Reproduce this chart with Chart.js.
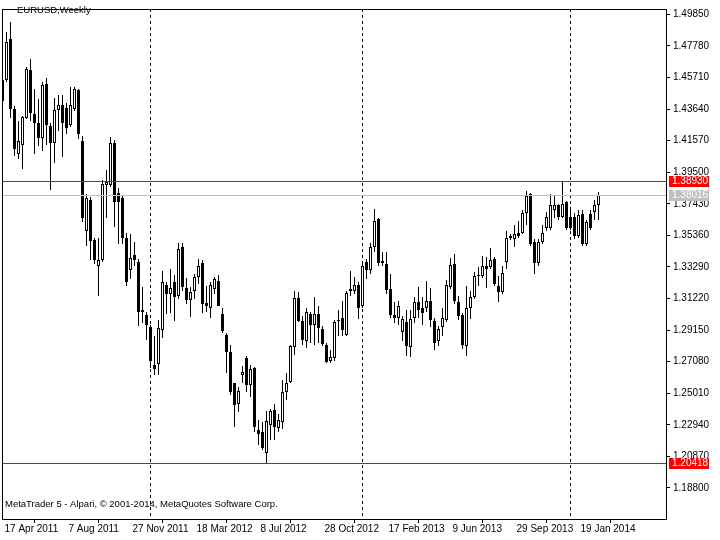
<!DOCTYPE html>
<html>
<head>
<meta charset="utf-8">
<script src="https://cdn.jsdelivr.net/npm/chart.js@4.4.1/dist/chart.umd.min.js"></script>
<style>
  html, body { margin: 0; padding: 0; background: #fff; }
  canvas { display: block; }
</style>
</head>
<body>
<canvas id="chart" width="720" height="540"></canvas>
<script>
// ===== data =====
const SYMBOL = 'EURUSD,Weekly';
const COPYRIGHT = 'MetaTrader 5 - Alpari, © 2001-2014, MetaQuotes Software Corp.';

// weekly bars, first one = week of 17 Apr 2011
const opens = [
  1.4415, 1.4558, 1.4823, 1.4364, 1.4072, 1.4131, 1.4305, 1.4622, 1.4331, 1.4273,
  1.4176, 1.4532, 1.4255, 1.4140, 1.4360, 1.4389, 1.4370, 1.4260, 1.4364, 1.4487,
  1.4157, 1.3568, 1.3770, 1.3503, 1.3335, 1.3374, 1.3865, 1.3865, 1.4144, 1.3814,
  1.3781, 1.3516, 1.3309, 1.3406, 1.3361, 1.3031, 1.3011, 1.2934, 1.2688, 1.2694,
  1.2915, 1.3212, 1.3150, 1.3231, 1.3140, 1.3458, 1.3193, 1.3115, 1.3173, 1.3264,
  1.3354, 1.3095, 1.3063, 1.3186, 1.3238, 1.3018, 1.2882, 1.2772, 1.2565, 1.2429,
  1.2623, 1.2733, 1.2552, 1.2668, 1.2261, 1.2248, 1.2112, 1.2293, 1.2390, 1.2274,
  1.2310, 1.2507, 1.2578, 1.2804, 1.3128, 1.2973, 1.2843, 1.3018, 1.2947, 1.3018,
  1.2921, 1.2817, 1.2714, 1.2733, 1.2979, 1.2992, 1.2882, 1.3186, 1.3173, 1.3212,
  1.3070, 1.3361, 1.3309, 1.3458, 1.3645, 1.3367, 1.3348, 1.3186, 1.3011, 1.2995,
  1.2901, 1.2966, 1.2804, 1.2992, 1.3102, 1.3063, 1.3057, 1.3108, 1.2973, 1.2843,
  1.2934, 1.2979, 1.3199, 1.3348, 1.3102, 1.3011, 1.2811, 1.3057, 1.3134, 1.3270,
  1.3270, 1.3335, 1.3328, 1.3380, 1.3205, 1.3167, 1.3361, 1.3529, 1.3510, 1.3555,
  1.3555, 1.3680, 1.3807, 1.3490, 1.3354, 1.3490, 1.3587, 1.3587, 1.3704, 1.3736,
  1.3658, 1.3755, 1.3658, 1.3658, 1.3529, 1.3678, 1.3477, 1.3678, 1.3691, 1.3736
];
const highs = [
  1.4590, 1.4868, 1.4933, 1.4383, 1.4286, 1.4318, 1.4642, 1.4694, 1.4499, 1.4428,
  1.4545, 1.4571, 1.4270, 1.4435, 1.4454, 1.4454, 1.4402, 1.4512, 1.4506, 1.4499,
  1.4189, 1.3807, 1.3790, 1.3516, 1.3516, 1.3898, 1.3962, 1.4182, 1.4163, 1.3846,
  1.3801, 1.3555, 1.3542, 1.3490, 1.3380, 1.3199, 1.3037, 1.2947, 1.2875, 1.2979,
  1.3303, 1.3231, 1.3315, 1.3277, 1.3484, 1.3484, 1.3257, 1.3199, 1.3283, 1.3380,
  1.3374, 1.3205, 1.3231, 1.3264, 1.3277, 1.3063, 1.2895, 1.2817, 1.2571, 1.2539,
  1.2681, 1.2746, 1.2688, 1.2675, 1.2326, 1.2313, 1.2384, 1.2397, 1.2429, 1.2364,
  1.2591, 1.2636, 1.2815, 1.3173, 1.3167, 1.3005, 1.3057, 1.3031, 1.3134, 1.3070,
  1.2940, 1.2830, 1.2785, 1.2979, 1.3044, 1.3108, 1.3173, 1.3303, 1.3264, 1.3231,
  1.3348, 1.3380, 1.3484, 1.3710, 1.3652, 1.3425, 1.3425, 1.3283, 1.3102, 1.3108,
  1.3005, 1.3044, 1.3044, 1.3134, 1.3199, 1.3134, 1.3238, 1.3193, 1.2992, 1.2940,
  1.3057, 1.3244, 1.3387, 1.3412, 1.3141, 1.3024, 1.3205, 1.3173, 1.3296, 1.3328,
  1.3400, 1.3393, 1.3451, 1.3393, 1.3270, 1.3335, 1.3568, 1.3542, 1.3607, 1.3632,
  1.3704, 1.3827, 1.3814, 1.3510, 1.3510, 1.3607, 1.3691, 1.3807, 1.3801, 1.3742,
  1.3893, 1.3762, 1.3704, 1.3684, 1.3704, 1.3704, 1.3639, 1.3704, 1.3768, 1.3820
];
const lows = [
  1.4402, 1.4545, 1.4305, 1.4059, 1.4040, 1.3969, 1.4299, 1.4286, 1.4072, 1.4124,
  1.4092, 1.4131, 1.3833, 1.4008, 1.4221, 1.4047, 1.4202, 1.4247, 1.4351, 1.4169,
  1.3626, 1.3464, 1.3374, 1.3348, 1.3141, 1.3361, 1.3652, 1.3852, 1.3594, 1.3477,
  1.3477, 1.3205, 1.3251, 1.3335, 1.2940, 1.2960, 1.2850, 1.2668, 1.2623, 1.2623,
  1.2863, 1.3018, 1.3024, 1.2973, 1.3120, 1.3173, 1.3089, 1.2998, 1.3121, 1.3218,
  1.3024, 1.3037, 1.2992, 1.3154, 1.3070, 1.2895, 1.2636, 1.2487, 1.2280, 1.2377,
  1.2571, 1.2507, 1.2474, 1.2248, 1.2164, 1.2131, 1.2042, 1.2196, 1.2196, 1.2248,
  1.2267, 1.2455, 1.2571, 1.2753, 1.2966, 1.2817, 1.2798, 1.2830, 1.2817, 1.2830,
  1.2811, 1.2701, 1.2701, 1.2714, 1.2875, 1.2875, 1.2875, 1.3141, 1.3154, 1.2985,
  1.3057, 1.3251, 1.3283, 1.3425, 1.3335, 1.3335, 1.3154, 1.2992, 1.2960, 1.2950,
  1.2843, 1.2746, 1.2740, 1.2960, 1.2992, 1.2947, 1.3037, 1.2934, 1.2785, 1.2811,
  1.2875, 1.2966, 1.3186, 1.3089, 1.2979, 1.2791, 1.2746, 1.2985, 1.3121, 1.3205,
  1.3257, 1.3193, 1.3315, 1.3205, 1.3102, 1.3154, 1.3315, 1.3503, 1.3458, 1.3522,
  1.3542, 1.3607, 1.3464, 1.3283, 1.3335, 1.3477, 1.3568, 1.3574, 1.3652, 1.3639,
  1.3652, 1.3574, 1.3574, 1.3510, 1.3516, 1.3464, 1.3464, 1.3574, 1.3639, 1.3639
];
const closes = [
  1.4558, 1.4804, 1.4364, 1.4105, 1.4157, 1.4312, 1.4629, 1.4338, 1.4273, 1.4176,
  1.4519, 1.4260, 1.4144, 1.4357, 1.4392, 1.4273, 1.4241, 1.4389, 1.4493, 1.4202,
  1.3652, 1.3781, 1.3497, 1.3374, 1.3374, 1.3872, 1.3885, 1.4144, 1.3755, 1.3755,
  1.3516, 1.3231, 1.3387, 1.3374, 1.3037, 1.3044, 1.2947, 1.2714, 1.2662, 1.2927,
  1.3231, 1.3154, 1.3193, 1.3134, 1.3445, 1.3199, 1.3115, 1.3167, 1.3264, 1.3335,
  1.3083, 1.3070, 1.3212, 1.3251, 1.3076, 1.2908, 1.2772, 1.2507, 1.2423, 1.2513,
  1.2643, 1.2558, 1.2662, 1.2280, 1.2235, 1.2144, 1.2319, 1.2384, 1.2280, 1.2326,
  1.2507, 1.2571, 1.2811, 1.3128, 1.2973, 1.2850, 1.3037, 1.2947, 1.3018, 1.2927,
  1.2824, 1.2707, 1.2740, 1.2966, 1.2973, 1.2914, 1.3160, 1.3173, 1.3212, 1.3057,
  1.3335, 1.3309, 1.3458, 1.3632, 1.3354, 1.3354, 1.3180, 1.3011, 1.2992, 1.3070,
  1.2985, 1.2811, 1.2985, 1.3102, 1.3044, 1.3024, 1.3108, 1.2979, 1.2830, 1.2921,
  1.2992, 1.3212, 1.3341, 1.3108, 1.3005, 1.2817, 1.3063, 1.3134, 1.3270, 1.3277,
  1.3335, 1.3315, 1.3374, 1.3218, 1.3167, 1.3290, 1.3516, 1.3516, 1.3542, 1.3535,
  1.3684, 1.3794, 1.3477, 1.3354, 1.3490, 1.3555, 1.3658, 1.3736, 1.3736, 1.3658,
  1.3742, 1.3587, 1.3587, 1.3529, 1.3671, 1.3477, 1.3626, 1.3587, 1.3736, 1.3802
];

// time axis: bar index -> label
const timeTickIdx = [0, 16, 32, 48, 64, 80, 96, 112, 128, 144];
const timeTickLabels = ['17 Apr 2011', '7 Aug 2011', '27 Nov 2011', '18 Mar 2012', '8 Jul 2012',
  '28 Oct 2012', '17 Feb 2013', '9 Jun 2013', '29 Sep 2013', '19 Jan 2014'];
const priceTicks = [1.49850, 1.47780, 1.45710, 1.43640, 1.41570, 1.39500, 1.37430, 1.35360,
  1.33290, 1.31220, 1.29150, 1.27080, 1.25010, 1.22940, 1.20870, 1.18800];
// year separators (first bar of 2012, 2013, 2014)
const separatorIdx = [37, 90, 142];
const levelLines = [1.38930, 1.20418];
const bidPrice = 1.38016;

const FONT = 'Liberation Sans, Arial, sans-serif';

// ===== pixel snapping so candles stay crisp =====
const crispBars = {
  id: 'crispBars',
  beforeDatasetsDraw(chart) {
    chart.data.datasets.forEach((ds, di) => {
      chart.getDatasetMeta(di).data.forEach(el => {
        let top = Math.round(Math.min(el.y, el.base));
        let bot = Math.round(Math.max(el.y, el.base));
        if (bot - top < 1) bot = top + 1;
        el.y = top;
        el.base = bot;
      });
    });
  }
};

// ===== separators, levels, frame, texts =====
const mtOverlay = {
  id: 'mtOverlay',
  beforeDatasetsDraw(chart) {
    const { ctx, chartArea: a, scales: { x } } = chart;
    ctx.save();
    ctx.fillStyle = '#000';
    separatorIdx.forEach(i => {
      const px = Math.floor(x.getPixelForValue(i));
      for (let yy = a.top; yy < a.bottom; yy += 6) {
        ctx.fillRect(px, yy, 1, Math.min(3, a.bottom - yy));
      }
    });
    ctx.restore();
  },
  afterDraw(chart) {
    const { ctx, chartArea: a, scales: { y } } = chart;
    ctx.save();
    // frame
    ctx.fillStyle = '#000';
    ctx.fillRect(a.left, a.top, a.right - a.left + 1, 1);
    ctx.fillRect(a.left, a.bottom, a.right - a.left + 1, 1);
    ctx.fillRect(a.left, a.top, 1, a.bottom - a.top + 1);
    ctx.fillRect(a.right, a.top, 1, a.bottom - a.top + 1);

    ctx.font = '9.5px ' + FONT;
    ctx.textBaseline = 'alphabetic';
    ctx.textAlign = 'left';
    ctx.fillText(SYMBOL, 17, 13);
    ctx.fillText(COPYRIGHT, 5, 507);

    // bid line and horizontal levels with their price tags
    ctx.font = '10px ' + FONT;
    const level = (v, color) => {
      const py = Math.round(y.getPixelForValue(v));
      ctx.fillStyle = color;
      ctx.fillRect(a.left + 1, py, a.right - a.left - 1, 1);
      ctx.fillRect(a.right + 3, py - 5, 40, 11);
      ctx.fillStyle = '#ffffff';
      ctx.textBaseline = 'middle';
      ctx.fillText(v.toFixed(5), a.right + 6, py + 0.5);
    };
    level(bidPrice, 'rgb(192,192,192)');
    levelLines.forEach(v => level(v, 'rgb(255,0,0)'));
    ctx.restore();
  }
};

// ===== chart =====
const idx = opens.map((_, i) => i);
const bodies = idx.map(i => ({ x: i, y: [opens[i], closes[i]] }));
const wicks = idx.map(i => ({ x: i, y: [lows[i], highs[i]] }));

new Chart(document.getElementById('chart'), {
  type: 'bar',
  data: {
    datasets: [
      {
        data: bodies,
        grouped: false,
        barThickness: 3,
        minBarLength: 1,
        inflateAmount: 0,
        borderSkipped: false,
        borderWidth: 1,
        borderColor: '#000',
        backgroundColor: idx.map(i => closes[i] >= opens[i] ? '#fff' : '#000')
      },
      {
        data: wicks,
        grouped: false,
        barThickness: 1,
        inflateAmount: 0,
        borderWidth: 0,
        backgroundColor: '#000'
      }
    ]
  },
  options: {
    responsive: false,
    animation: false,
    devicePixelRatio: 1,
    layout: { padding: { left: 2, top: 2, right: 0, bottom: 0 } },
    plugins: { legend: { display: false }, tooltip: { enabled: false } },
    scales: {
      x: {
        type: 'linear',
        min: -0.125,
        max: 165.875,
        offset: false,
        afterBuildTicks: s => { s.ticks = timeTickIdx.map(v => ({ value: v })); },
        afterFit: s => { s.height = 21; },
        border: { display: false },
        grid: { display: true, drawOnChartArea: false, drawTicks: true, tickLength: 4, color: '#000' },
        ticks: {
          autoSkip: false, maxRotation: 0, minRotation: 0, align: 'start',
          padding: 0, labelOffset: 2, color: '#000',
          font: { family: FONT, size: 10 },
          callback: v => timeTickLabels[timeTickIdx.indexOf(v)] || ''
        }
      },
      y: {
        position: 'right',
        min: 1.167646,
        max: 1.502058,
        afterBuildTicks: s => { s.ticks = priceTicks.map(v => ({ value: v })); },
        afterFit: s => { s.width = 54; },
        border: { display: false },
        grid: { display: true, drawOnChartArea: false, drawTicks: true, tickLength: 4, color: '#000' },
        ticks: {
          padding: 3, color: '#000',
          font: { family: FONT, size: 10 },
          callback: v => v.toFixed(5)
        }
      }
    }
  },
  plugins: [crispBars, mtOverlay]
});
</script>
</body>
</html>
